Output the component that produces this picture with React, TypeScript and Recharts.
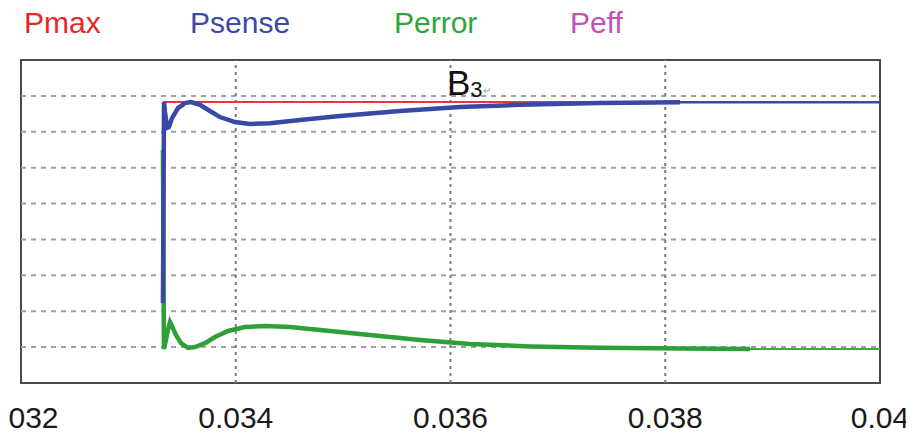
import React from "react";
import { LineChart, Line, XAxis, YAxis, ReferenceLine, ReferenceArea, ReferenceDot } from "recharts";

// ---- data ----
const xTicks = [0.032, 0.034, 0.036, 0.038, 0.04];
const xTickLabels = ["0.032", "0.034", "0.036", "0.038", "0.04"];
const xGrid = [0.034, 0.036, 0.038];
const yGrid = [1, 2, 3, 4, 5, 6, 7, 8];

const pmaxTime = [0.033322, 0.04];
const pmaxValue = [7.83, 7.83];

const psenseTime = [
  0.033322, 0.033332, 0.033341, 0.03336, 0.033378, 0.033406, 0.033462, 0.033527,
  0.033583, 0.033667, 0.03376, 0.033853, 0.033993, 0.034133, 0.034319, 0.034598,
  0.034971, 0.03553, 0.036088, 0.036647, 0.037392, 0.038137, 0.04,
];
const psenseValue = [
  2.23, 7.83, 7.55, 7.11, 7.13, 7.38, 7.66, 7.8,
  7.83, 7.75, 7.58, 7.41, 7.27, 7.22, 7.24, 7.33,
  7.44, 7.58, 7.69, 7.75, 7.8, 7.82, 7.82,
];
const psenseRippleEnd = 0.038137;

const perrorTime = [
  0.033322, 0.033331, 0.03335, 0.033369, 0.033388, 0.033406, 0.033443, 0.03349,
  0.033555, 0.03362, 0.033714, 0.033807, 0.033928, 0.034086, 0.034272, 0.034505,
  0.034878, 0.03525, 0.035716, 0.036181, 0.03674, 0.037392, 0.038137, 0.038789, 0.04,
];
const perrorValue = [
  6.49, 0.95, 1.2, 1.48, 1.7, 1.59, 1.34, 1.11,
  0.98, 1.0, 1.11, 1.28, 1.45, 1.56, 1.59, 1.56,
  1.45, 1.34, 1.2, 1.09, 1.02, 0.98, 0.96, 0.95, 0.95,
];
const perrorRippleEnd = 0.038789;

const legendNames = ["Pmax", "Psense", "Perror", "Peff"];
const legendColors = ["#e8262a", "#3c4aa6", "#2ea63a", "#c24fb5"];

// ---- tables built from the arrays ----
const toRows = (t: number[], v: number[]) => t.map((tt, i) => ({ t: tt, v: v[i] }));
const pmaxRows = toRows(pmaxTime, pmaxValue);
const psenseRows = toRows(psenseTime, psenseValue);
const perrorRows = toRows(perrorTime, perrorValue);
const psenseThick = psenseRows.filter((r) => r.t <= psenseRippleEnd);
const psenseThin = psenseRows.filter((r) => r.t >= psenseRippleEnd);
const perrorThick = perrorRows.filter((r) => r.t <= perrorRippleEnd);
const perrorThin = perrorRows.filter((r) => r.t >= perrorRippleEnd);

const FONT = "'Liberation Sans', Arial, sans-serif";
const W = 906;
const H = 441;
const legendLeft = [14, 180, 384, 560];

const Tick = (props: any) => {
  const { x, y, payload } = props;
  const i = xTicks.indexOf(payload.value);
  return (
    <text x={x} y={y + 45} textAnchor="middle" fontSize={30} fontFamily={FONT} fill="#1a1a1a">
      {i >= 0 ? xTickLabels[i] : String(payload.value)}
    </text>
  );
};

const B3Label = (props: any) => {
  const vb = props.viewBox || {};
  const x = (vb.x ?? 0) + (vb.width ?? 0) / 2;
  const y = (vb.y ?? 0) + (vb.height ?? 0) / 2;
  return (
    <text x={x} y={y} fontFamily={FONT} fill="#111">
      <tspan fontSize={35}>B</tspan>
      <tspan fontSize={22} dy={2}>3</tspan>
      <tspan fontSize={10} fill="#999" dy={-3}>↵</tspan>
    </text>
  );
};

export default function App() {
  return (
    <div style={{ position: "relative", width: W, height: H, marginTop: -8, overflow: "hidden", background: "#fff" }}>
      {legendNames.map((n, i) => (
        <div
          key={n}
          style={{
            position: "absolute",
            left: legendLeft[i],
            top: 4,
            fontFamily: FONT,
            fontSize: 30,
            lineHeight: "38px",
            padding: "0 2px",
            color: legendColors[i],
            whiteSpace: "nowrap",
            zIndex: 2,
          }}
        >
          {n}
        </div>
      ))}
      <LineChart width={W} height={H} margin={{ top: 60, right: 34, left: 13, bottom: 8 }}>
        <XAxis
          type="number"
          dataKey="t"
          domain={[0.032, 0.04]}
          ticks={xTicks}
          allowDataOverflow
          axisLine={false}
          tickLine={false}
          tickSize={0}
          tickMargin={0}
          height={50}
          tick={<Tick />}
          interval={0}
        />
        <YAxis type="number" dataKey="v" domain={[0, 9]} hide allowDataOverflow />
        {yGrid.map((g) => (
          <ReferenceLine key={"h" + g} y={g} stroke="#a0a0a0" strokeWidth={2} strokeDasharray="5 5" />
        ))}
        {xGrid.map((g) => (
          <ReferenceLine key={"v" + g} x={g} stroke="#7a7a7a" strokeWidth={2} strokeDasharray="3 4" />
        ))}
        <Line data={pmaxRows} dataKey="v" type="linear" stroke="#e8383d" strokeWidth={2} dot={false} isAnimationActive={false} name="Pmax" />
        <Line data={perrorThick} dataKey="v" type="linear" stroke="#2f9f3a" strokeWidth={4.5} dot={false} isAnimationActive={false} name="Perror" />
        <Line data={perrorThin} dataKey="v" type="linear" stroke="#3caa3c" strokeWidth={2} dot={false} isAnimationActive={false} name="Perror tail" />
        <Line data={psenseThick} dataKey="v" type="linear" stroke="#3848a6" strokeWidth={4.5} dot={false} isAnimationActive={false} name="Psense" />
        <Line data={psenseThin} dataKey="v" type="linear" stroke="#3848a6" strokeWidth={2.5} dot={false} isAnimationActive={false} name="Psense tail" />
        <ReferenceDot x={0.035967} y={8.02} r={1} fill="none" stroke="none" label={<B3Label />} />
        <ReferenceArea x1={0.032} x2={0.04} y1={0} y2={9} fill="none" stroke="#4a4a4a" strokeWidth={2} />
      </LineChart>
    </div>
  );
}
